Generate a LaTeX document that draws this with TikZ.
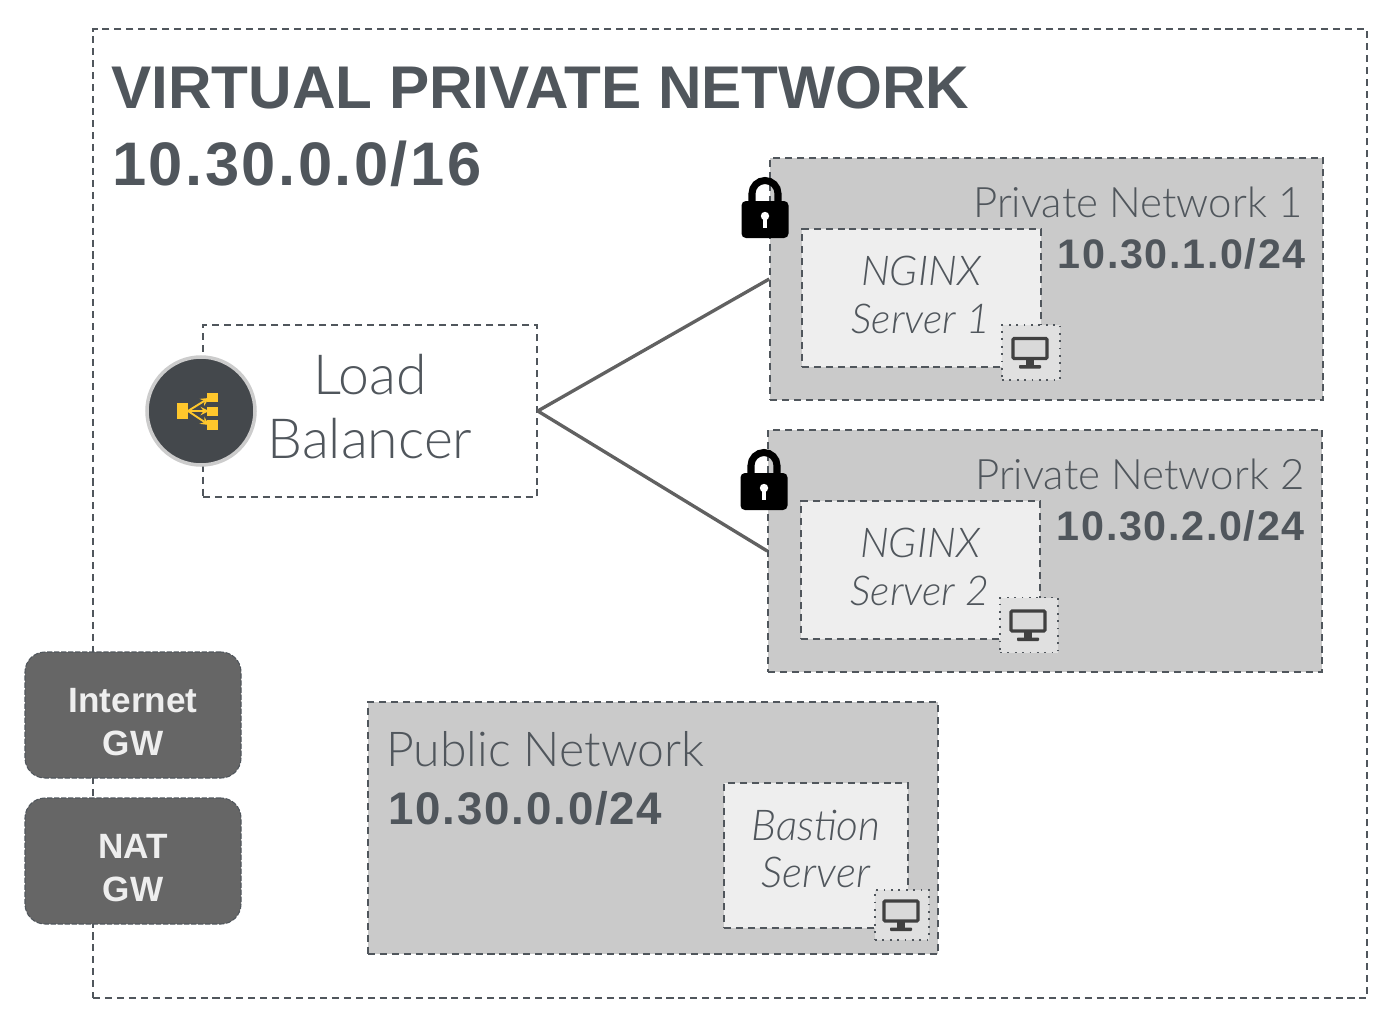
\documentclass[tikz,border=0pt]{standalone}
\usepackage{fontspec}
\setmainfont{Liberation Sans}
\newfontfamily\lightfont{Lato}[UprightFont=* Light,ItalicFont=* Light Italic]
\newfontfamily\ipfont{Liberation Sans}[LetterSpace=4]
\usetikzlibrary{positioning}
\definecolor{inkgray}{HTML}{50565C}
\definecolor{netgray}{HTML}{CACACA}
\definecolor{srvgray}{HTML}{EEEEEE}
\definecolor{gwgray}{HTML}{666666}
\definecolor{lbyellow}{HTML}{FFC72C}
\definecolor{lbdark}{HTML}{44484C}
\tikzset{
	x=0.02cm, y=-0.02cm,
	boxsize/.style 2 args={minimum width=#1*0.02cm, minimum height=#2*0.02cm},
	dashline/.style={draw=inkgray, line width=0.85pt, dash pattern=on 4pt off 2.8pt},
	netbox/.style={rectangle, dashline, fill=netgray, inner sep=0pt},
	srvbox/.style={rectangle, dashline, fill=srvgray, inner sep=0pt},
	iconbox/.style={rectangle, draw=inkgray, line width=1pt, dash pattern=on 1pt off 3.2pt, fill=black!12, inner sep=0pt, boxsize={58}{55}},
	gwbox/.style={rectangle, rounded corners=0.4cm, draw=inkgray, line width=0.6pt, dash pattern=on 3pt off 1pt, fill=gwgray, inner sep=0pt, boxsize={216}{126}},
	gwtext/.style={text=srvgray, inner sep=0pt, align=center, font=\fontsize{20}{24.5}\selectfont\bfseries},
	nettext/.style={text=inkgray, inner sep=0pt, font=\lightfont\fontsize{23.9}{30}\selectfont},
	ipbold/.style={text=inkgray, inner sep=0pt, font=\ipfont\fontsize{23.5}{28}\selectfont\bfseries},
	srvtext/.style={text=inkgray, inner sep=0pt, align=center, font=\lightfont\itshape\fontsize{23.4}{27}\selectfont},
	pics/monitor/.style={code={
		\draw[black!75, line width=1.8pt, fill=black!15, rounded corners=0.6pt] (-18,-14) rectangle (16,6);
		\fill[black!75] (-5,6) rectangle (3,14);
		\fill[black!75, rounded corners=0.5pt] (-12,12.5) rectangle (10,16);
	}},
	pics/padlock/.style={code={
		\draw[black, line width=4pt] (-13,-6) -- (-13,-21.5) arc[start angle=180, end angle=0, x radius=13, y radius=-13] -- (13,-6);
		\fill[black, rounded corners=2.5pt] (-23.5,-14) rectangle (23.5,23);
		\fill[white] (0,1) circle[radius=4.2];
		\fill[white] (-2,2) rectangle (2,13);
	}}
}
\begin{document}
\begin{tikzpicture}
	\useasboundingbox (0,0) rectangle (1386,1014);

	% outer network
	\node[rectangle, dashline, inner sep=0pt, boxsize={1274}{969}] (vpn) at (730,513.5) {};
	\node[anchor=base west, text=inkgray, inner sep=0pt, font=\fontsize{34.3}{40}\selectfont\bfseries] (vpntitle) at (111,108) {VIRTUAL PRIVATE NETWORK};
	\node[anchor=base west, text=inkgray, inner sep=0pt, font=\ipfont\fontsize{35}{40}\selectfont\bfseries] (vpnip) at (112,185) {10.30.0.0/16};

	% private networks
	\node[netbox, boxsize={553}{242}] (priv1) at (1046.5,279) {};
	\node[netbox, boxsize={554}{242}] (priv2) at (1045,551) {};
	\node[nettext, anchor=base east] (priv1name) at (1303,217) {Private Network 1};
	\node[nettext, anchor=base east] (priv2name) at (1305,489) {Private Network 2};
	\node[ipbold, anchor=base east] (priv1ip) at (1306,268) {10.30.1.0/24};
	\node[ipbold, anchor=base east] (priv2ip) at (1305,540) {10.30.2.0/24};
	\pic at (765,215) {padlock};
	\pic at (764,487) {padlock};

	\node[srvbox, boxsize={239}{138}] (srv1) at (921.5,298) {};
	\node[srvbox, boxsize={239}{138}] (srv2) at (920.5,570) {};
	\node[srvtext] (srv1text) at (921,295) {NGINX\\Server 1};
	\node[srvtext] (srv2text) at (920,567) {NGINX\\Server 2};
	\node[iconbox] (icon1) at (1031,352.5) {};
	\node[iconbox] (icon2) at (1029,625) {};
	\pic at (icon1) {monitor};
	\pic at (icon2) {monitor};

	% public network
	\node[netbox, boxsize={570}{252}] (pub) at (653,828) {};
	\node[anchor=base west, text=inkgray, inner sep=0pt, font=\lightfont\fontsize{27.4}{32}\selectfont] (pubname) at (386,766) {Public Network};
	\node[ipbold, anchor=base west, font=\ipfont\fontsize{26}{30}\selectfont\bfseries] (pubip) at (388,824) {10.30.0.0/24};
	\node[srvbox, boxsize={184}{145}] (bastion) at (816,855.5) {};
	\node[srvtext, font=\lightfont\itshape\fontsize{24.2}{27}\selectfont] (bastiontext) at (816,849) {Bastion\\Server};
	\node[iconbox, boxsize={54}{50}] (icon3) at (902,915) {};
	\pic at (icon3) {monitor};

	% load balancer
	\node[rectangle, dashline, inner sep=0pt, boxsize={334}{172}] (lb) at (370,411) {};
	\node[text=inkgray, inner sep=0pt, align=center, font=\lightfont\fontsize{31.5}{36.5}\selectfont] (lbtext) at (370,407) {Load\\Balancer};
	\node[circle, draw=black!20, line width=2pt, fill=lbdark, minimum size=108*0.02cm, inner sep=0pt] (lbicon) at (201,411) {};
	\fill[lbyellow] (177,403) rectangle (188,419);
	\fill[lbyellow] (207,393) rectangle (218,402);
	\fill[lbyellow] (207,407) rectangle (218,416);
	\fill[lbyellow] (207,420) rectangle (218,430);
	\draw[lbyellow, line width=1.1pt, -stealth] (188,411) -- (209,398);
	\draw[lbyellow, line width=1.1pt, -stealth] (188,411) -- (209,411);
	\draw[lbyellow, line width=1.1pt, -stealth] (188,411) -- (209,425);

	\draw[black!62, line width=1.9pt] (lb.east) -- (priv1.west);
	\draw[black!62, line width=1.9pt] (lb.east) -- (priv2.west);

	% gateways
	\node[gwbox] (igw) at (133,715) {};
	\node[gwbox] (natgw) at (133,861) {};
	\node[gwtext] (igwtext) at (133,722) {Internet\\GW};
	\node[gwtext] (natgwtext) at (133,868) {NAT\\GW};
\end{tikzpicture}
\end{document}
